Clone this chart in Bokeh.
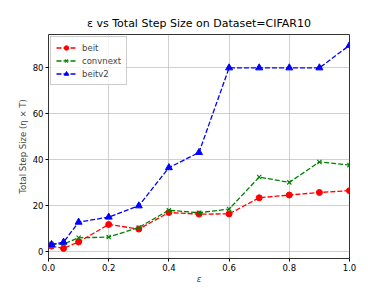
from bokeh.plotting import figure
from bokeh.models import Range1d, FixedTicker, Legend, LegendItem, CustomJSTickFormatter
from bokeh.embed import file_html
from bokeh.resources import INLINE

eps = [0.01, 0.05, 0.1, 0.2, 0.3, 0.4, 0.5, 0.6, 0.7, 0.8, 0.9, 1.0]
beit = [2.5, 1.5, 4.3, 11.9, 9.9, 17.1, 16.4, 16.5, 23.5, 24.7, 25.8, 26.6]
convnext = [3.4, 3.4, 6.1, 6.4, 10.6, 18.1, 17.0, 18.6, 32.5, 30.2, 39.1, 37.7]
beitv2 = [3.2, 4.2, 12.9, 15.1, 20.0, 36.6, 43.2, 80.0, 80.0, 80.0, 80.0, 89.8]
x_ticks = [0.0, 0.2, 0.4, 0.6, 0.8, 1.0]
y_ticks = [0, 20, 40, 60, 80]

FONT = "DejaVu Sans"

p = figure(width=380, height=283, output_backend="svg", toolbar_location=None,
           x_range=Range1d(0, 1), y_range=Range1d(-2.9, 94.5),
           title="ε vs Total Step Size on Dataset=CIFAR10",
           min_border_left=48, min_border_right=31, min_border_top=34, min_border_bottom=25)
p.frame_width = 301
p.frame_height = 224

p.title.align = "center"
p.title.text_font = FONT
p.title.text_font_size = "11px"
p.title.text_font_style = "normal"
p.title.text_color = "#000000"

p.xaxis.ticker = FixedTicker(ticks=x_ticks)
p.yaxis.ticker = FixedTicker(ticks=y_ticks)
p.xaxis.formatter = CustomJSTickFormatter(code="return tick.toFixed(1);")
p.xaxis.axis_label = "ε"
p.yaxis.axis_label = "Total Step Size (η × T)"
for ax in (p.xaxis, p.yaxis):
    ax.axis_label_text_font = FONT
    ax.axis_label_text_font_size = "8.5px"
    ax.axis_label_text_font_style = "normal"
    ax.major_label_text_font = FONT
    ax.major_label_text_font_size = "8.5px"
    ax.major_label_text_color = "#000000"
    ax.minor_tick_line_color = None
    ax.major_tick_out = 3
    ax.major_tick_in = 0
    ax.axis_line_color = None
    ax.major_tick_line_color = "#000000"
    ax.major_label_standoff = 2
    ax.axis_label_standoff = 2
p.xaxis.axis_label_text_font_style = "italic"
p.xaxis.axis_label_standoff = 0

p.outline_line_color = "#333333"
p.outline_line_width = 1
p.grid.grid_line_color = "#b0b0b0"
p.grid.grid_line_alpha = 0.6
p.grid.grid_line_width = 1

p.background_fill_color = "white"
p.border_fill_color = "white"

lw = 1.3
dash = "5 2"
r1 = p.line(eps, beit, line_color="red", line_width=lw, line_dash=dash)
s1 = p.scatter(eps, beit, marker="circle", size=6, fill_color="red", line_color="red")
r2 = p.line(eps, convnext, line_color="green", line_width=lw, line_dash=dash)
s2 = p.scatter(eps, convnext, marker="x", size=6, line_color="green", line_width=1.1)
r3 = p.line(eps, beitv2, line_color="blue", line_width=lw, line_dash=dash)
s3 = p.scatter(eps, beitv2, marker="triangle", size=7, fill_color="blue", line_color="blue")

legend = Legend(items=[
    LegendItem(label="beit", renderers=[r1, s1]),
    LegendItem(label="convnext", renderers=[r2, s2]),
    LegendItem(label="beitv2", renderers=[r3, s3]),
], location="top_left")
legend.label_text_font = FONT
legend.label_text_font_size = "8.5px"
legend.glyph_width = 20
legend.glyph_height = 11
legend.label_height = 11
legend.spacing = 2
legend.padding = 5
legend.margin = 2
legend.label_standoff = 6
legend.border_line_color = "#cccccc"
legend.border_line_alpha = 1
legend.background_fill_alpha = 0.8
p.add_layout(legend)

open("out.html", "w").write(file_html(p, INLINE))
